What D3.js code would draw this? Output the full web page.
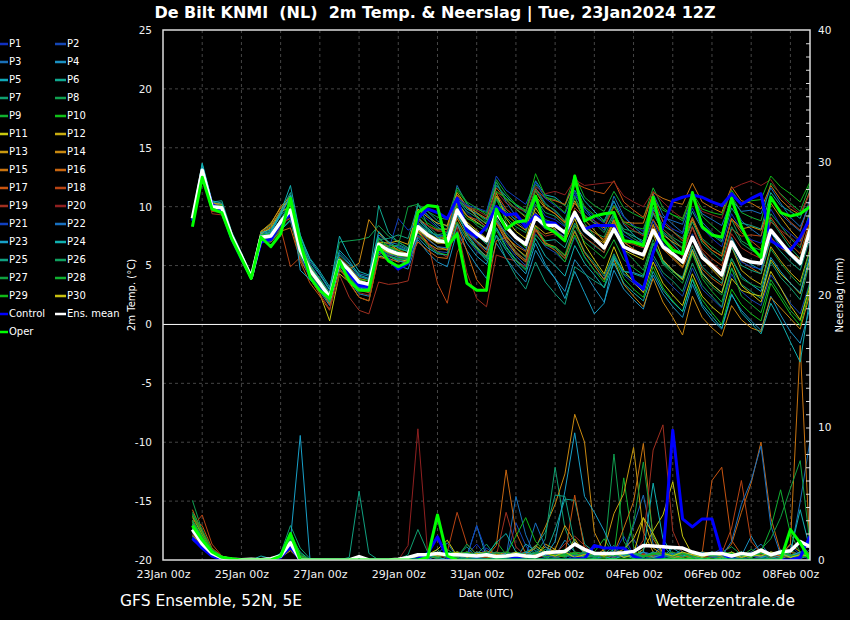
<!DOCTYPE html>
<html>
<head>
<meta charset="utf-8">
<script src="https://cdn.jsdelivr.net/npm/d3@7"></script>
<style>
    html, body { margin: 0; padding: 0; background: #000; }
    svg { display: block; font-family: "DejaVu Sans", sans-serif; }
    text { white-space: pre; }
</style>
</head>
<body>
<svg id="chart" width="850" height="620"></svg>
<script>
// forecast lead times (hours after the 23Jan2024 12Z run)
const leadHours = [6,12,18,24,30,36,42,48, 54,60,66,72,78,84,90,96, 102,108,114,120,126,132,138,144, 150,156,162,168,174,180,186,192,
    198,204,210,216,222,228,234,240, 246,252,258,264,270,276,282,288, 294,300,306,312,318,324,330,336, 342,348,354,360,366,372,378,384];

const memberNames = ["P1","P2","P3","P4","P5","P6","P7","P8","P9","P10","P11","P12","P13","P14","P15",
    "P16","P17","P18","P19","P20","P21","P22","P23","P24","P25","P26","P27","P28","P29","P30"];

const tempTicks = [-20, -15, -10, -5, 0, 5, 10, 15, 20, 25];
const rainTicks = [0, 10, 20, 30, 40];
const dateTicks = ["2024-01-23","2024-01-25","2024-01-27","2024-01-29","2024-01-31","2024-02-02","2024-02-04","2024-02-06","2024-02-08"];

// 2m temperature (°C)
const tempP1 = [9.1,13.3,10.1,9.8,7.6,5.9,4.1,7.6, 7.8,8.9,10.2,6.8,4.9,3.6,2.4,5.6, 4.9,4.0,3.9,7.2,6.8,6.6,6.2,9.6, 8.9,8.2,7.8,10.8,9.5,8.7,8.0,10.9, 9.6,8.8,8.1,10.5,9.2,8.9,8.3,11.0, 9.8,9.2,8.6,10.4,9.1,8.4,7.9,10.3, 8.8,8.1,7.7,9.9,8.2,7.3,6.6,9.4, 8.0,7.2,6.9,9.8,8.4,7.7,7.0,9.5];
const tempP2 = [8.9,13.0,9.8,9.7,7.4,5.7,3.9,7.2, 7.3,8.4,9.1,5.9,4.2,3.1,1.9,5.0, 4.3,3.2,3.0,6.3,5.9,5.5,5.4,7.6, 6.8,6.2,6.1,8.6,7.3,6.2,5.6,8.2, 6.9,5.8,5.0,7.7,6.6,6.1,5.3,7.4, 5.8,4.6,3.9,5.9,4.2,3.5,2.8,5.6, 4.1,3.2,2.4,4.8,3.0,2.2,1.4,4.3, 2.8,2.1,1.6,4.2,3.1,1.8,0.9,3.6];
const tempP3 = [9.2,13.5,10.3,10.1,7.8,6.0,4.1,7.8, 8.1,9.3,10.8,7.1,5.3,4.2,2.9,6.1, 5.2,4.3,4.1,7.6,7.0,6.8,6.4,10.2, 9.3,8.5,8.0,11.8,10.2,9.1,8.2,12.1, 10.4,9.2,8.6,11.6,10.3,9.6,8.8,11.4, 9.9,8.8,8.0,10.9,9.2,8.3,7.6,11.1, 9.3,8.5,7.8,10.9,8.7,7.8,7.1,10.6, 8.8,8.1,7.5,10.8,9.4,8.6,7.9,10.7];
const tempP4 = [9.0,13.2,10.0,9.9,7.3,5.6,3.9,7.0, 7.0,8.0,8.8,5.7,4.0,2.8,1.6,4.8, 3.7,2.6,2.4,6.0,5.4,5.0,4.7,7.2, 6.1,5.3,4.9,7.9,6.3,5.0,3.9,6.9, 5.6,4.5,3.6,6.3,4.9,3.9,2.8,5.5, 4.4,3.1,1.9,4.6,3.0,2.1,1.3,4.2, 2.6,1.5,0.6,3.4,1.5,0.4,-0.4,2.5, 1.2,0.3,-0.5,2.4,0.8,-0.6,-1.6,1.4];
const tempP5 = [9.1,13.6,10.4,10.2,7.7,5.9,4.0,7.7, 7.9,9.4,11.0,7.4,5.6,4.5,3.2,6.3, 5.4,4.2,3.9,7.4,6.5,6.2,6.0,8.9, 8.0,7.5,7.6,10.9,9.8,9.4,8.9,11.8, 10.9,10.1,9.5,12.2,11.0,10.8,10.1,12.0, 10.5,9.6,8.8,10.5,8.5,7.6,6.9,9.5, 7.8,6.9,6.0,8.3,6.1,5.1,4.2,7.4, 5.7,5.1,4.6,7.8,6.6,5.8,5.0,8.2];
const tempP6 = [8.8,13.0,10.4,10.5,7.9,6.1,4.3,7.9, 8.4,9.6,11.2,7.6,5.1,3.9,2.7,5.9, 5.1,4.1,3.8,10.1,7.8,7.0,6.5,9.6, 9.6,8.8,8.3,10.5,8.2,7.1,6.4,8.8, 7.2,6.1,5.5,8.0,7.1,7.2,6.5,8.6, 7.4,6.7,6.1,9.2,7.9,7.5,7.1,9.9, 8.4,7.9,7.3,9.6,8.1,7.6,7.0,9.9, 8.6,8.4,8.1,11.2,10.1,9.6,9.0,11.4];
const tempP7 = [9.0,12.9,9.9,9.7,7.2,5.5,3.8,7.5, 7.9,9.2,10.3,6.6,4.4,3.2,2.0,5.1, 4.5,3.3,3.0,6.5,6.5,6.7,6.3,10.3, 8.4,7.6,7.2,10.1,8.4,7.6,6.8,9.1, 7.6,6.5,5.7,8.2,6.8,6.5,5.6,8.0, 6.2,5.2,4.1,6.0,4.3,3.8,3.2,5.9, 4.4,3.7,2.8,5.2,3.3,2.4,1.5,4.8, 3.4,2.8,2.2,5.3,4.0,3.1,2.1,5.4];
const tempP8 = [9.1,13.1,10.2,10.0,7.5,5.8,4.1,7.4, 7.4,8.7,9.8,6.4,4.8,3.7,2.5,7.0, 7.1,7.2,7.4,8.4,7.5,7.0,6.5,9.2, 8.1,7.4,7.3,10.4,9.3,8.4,7.9,10.6, 9.1,8.3,7.8,10.2,8.9,8.6,7.9,9.6, 8.2,7.8,7.4,9.3,8.1,7.9,7.7,10.0, 8.1,7.4,6.9,9.0,7.3,6.6,6.0,8.9, 7.1,6.6,6.3,9.4,8.4,7.3,6.5,9.7];
const tempP9 = [8.9,12.8,9.7,9.6,7.3,5.7,4.0,7.3, 7.2,8.3,9.4,6.0,4.1,3.0,1.8,4.6, 4.0,3.0,2.8,6.4,5.8,5.6,5.5,8.7, 7.8,7.3,7.6,10.6,9.9,9.8,9.5,12.3, 11.1,10.2,9.7,11.9,10.8,10.6,10.1,12.7, 10.8,10.1,9.6,11.3,9.9,9.4,9.0,11.6, 9.9,9.3,8.8,11.1,9.2,8.4,7.7,10.9, 9.5,9.1,8.8,12.0,11.1,10.3,9.6,11.9];
const tempP10 = [9.0,13.2,10.1,10.0,7.6,5.8,4.0,7.6, 7.7,8.8,9.9,6.1,4.4,3.4,2.2,5.3, 4.7,3.7,3.5,7.0,6.6,6.4,6.2,9.4, 8.6,8.1,8.1,11.4,10.3,9.5,8.7,10.8, 8.7,7.4,6.5,8.4,7.0,6.3,5.3,7.6, 5.7,4.6,3.6,5.7,3.9,3.0,2.3,4.9, 3.1,2.0,1.1,3.9,2.1,1.0,0.0,3.0, 1.7,0.9,0.3,3.5,2.2,0.9,-0.1,2.9];
const tempP11 = [9.1,13.0,10.0,9.8,7.6,5.9,4.2,7.7, 8.2,9.5,10.1,6.0,3.9,2.6,0.3,4.3, 3.6,2.3,2.0,5.8,5.6,5.3,5.5,8.0, 7.6,7.1,7.4,10.4,9.2,8.7,8.1,11.2, 9.0,7.9,7.3,9.9,8.6,8.1,7.0,9.0, 6.8,5.5,4.3,6.6,4.6,3.6,2.7,5.3, 3.5,2.5,1.6,4.3,2.4,1.5,0.8,3.9, 2.9,2.6,2.4,5.5,4.3,3.5,2.6,5.6];
const tempP12 = [9.0,13.1,10.3,10.2,7.8,5.9,4.1,7.9, 8.6,9.9,10.6,6.7,4.9,3.8,2.6,5.5, 4.8,3.9,3.7,7.0,6.9,7.1,6.8,9.8, 9.1,8.6,8.4,11.2,10.0,9.2,8.5,10.9, 9.4,8.6,8.0,10.9,9.9,9.4,8.6,10.5, 8.9,8.0,7.0,8.8,7.0,6.4,5.9,8.5, 6.6,5.7,4.9,7.5,5.6,4.7,3.8,6.6, 4.6,3.9,3.4,6.6,5.4,4.4,3.6,6.4];
const tempP13 = [8.9,13.0,10.0,9.9,7.5,5.8,4.0,7.3, 7.4,8.5,9.5,6.2,4.5,3.4,2.2,5.2, 4.4,3.4,3.2,6.6,6.0,5.8,5.8,7.9, 6.9,6.4,6.4,9.2,7.9,7.1,6.4,8.9, 7.5,6.5,5.8,8.4,7.7,7.9,7.4,9.3, 7.9,7.4,6.9,8.6,7.2,6.9,6.7,8.9, 7.6,7.0,6.5,8.9,7.1,6.3,5.8,9.0, 8.1,8.3,8.0,10.3,9.1,8.0,7.1,9.1];
const tempP14 = [9.0,13.1,10.1,10.0,7.6,5.8,4.0,7.9, 8.5,10.0,10.9,6.9,5.0,3.7,2.4,5.5, 4.7,5.2,8.9,7.8,6.9,6.3,5.8,8.2, 7.3,6.6,6.3,9.0,7.5,6.5,5.8,8.6, 7.1,6.0,5.3,8.1,6.9,6.6,5.8,7.9, 6.1,5.0,3.8,5.5,3.4,2.4,1.5,3.9, 1.9,0.6,-0.9,2.4,0.6,-0.3,-1.0,1.6, 0.4,-0.3,-0.6,2.3,1.4,0.5,-0.4,2.6];
const tempP15 = [9.1,13.2,10.2,10.1,7.7,6.0,4.2,7.8, 8.3,9.7,10.6,6.5,4.7,3.6,2.3,5.7, 4.9,3.8,3.5,6.9,6.6,6.3,6.0,9.0, 8.4,8.0,8.1,11.0,10.0,9.5,9.0,11.6, 10.6,9.8,9.1,11.3,10.0,9.4,8.7,10.3, 9.2,8.6,8.2,10.0,8.7,8.6,8.6,11.2, 10.7,10.4,10.2,12.0,10.4,9.9,9.5,11.7, 10.5,10.3,9.8,11.8,10.6,9.8,9.3,11.3];
const tempP16 = [8.9,12.9,9.9,9.8,7.3,5.6,3.8,7.2, 7.0,7.9,8.2,5.5,4.0,3.0,1.7,4.6, 3.9,2.9,2.7,6.1,5.8,5.4,5.3,7.0, 6.3,5.7,5.6,8.6,6.2,3.8,2.8,7.1, 7.4,6.7,6.2,9.2,8.3,8.0,7.2,9.2, 8.4,7.8,7.2,8.9,7.0,6.4,5.9,8.4, 6.4,5.6,4.8,6.7,4.7,3.9,3.3,6.8, 5.4,4.8,4.3,7.4,6.5,6.0,5.6,8.6];
const tempP17 = [9.0,13.1,10.0,9.9,7.5,5.7,3.9,7.2, 7.6,8.6,9.0,5.3,3.5,2.4,1.2,5.0, 4.4,3.3,3.1,6.6,6.1,5.7,5.6,8.1, 7.7,7.3,7.4,10.2,9.2,8.9,8.3,11.1, 9.8,9.1,8.8,11.5,10.7,10.5,10.2,12.0, 11.6,11.3,11.1,12.2,10.4,9.7,9.1,11.0, 8.7,7.9,7.1,9.1,7.2,6.3,5.8,9.0, 7.8,7.1,6.4,9.1,7.9,6.8,6.0,8.8];
const tempP18 = [9.0,13.0,9.6,9.5,7.2,5.5,3.9,7.3, 7.3,8.2,4.9,5.7,4.2,3.1,1.9,4.8, 3.5,2.3,2.0,5.7,5.5,5.4,5.2,8.0, 7.0,3.5,1.8,6.1,7.8,6.9,6.1,8.7, 7.3,6.2,5.4,8.0,6.8,6.3,5.6,8.4, 7.4,6.8,6.1,8.4,7.0,6.8,6.5,8.9, 7.3,6.6,5.8,8.3,6.4,5.6,5.0,8.1, 7.5,7.6,7.5,10.6,9.7,8.7,8.0,10.4];
const tempP19 = [9.0,12.9,9.4,9.3,7.2,5.6,3.9,7.2, 7.2,8.0,9.4,6.0,3.9,2.6,1.3,4.2, 2.3,1.2,0.9,3.6,3.4,3.5,3.7,7.5, 6.9,6.2,5.7,8.3,4.4,2.2,1.5,5.9, 5.6,5.4,4.9,8.1,7.5,7.7,7.4,9.9, 9.1,8.8,8.3,10.1,8.6,8.0,7.5,9.6, 8.1,7.3,6.4,8.2,6.2,5.2,4.6,7.7, 6.5,6.0,5.6,8.7,8.0,7.4,6.7,9.2];
const tempP20 = [9.0,13.0,10.1,10.0,7.6,5.8,4.0,7.5, 7.6,8.6,9.4,6.1,4.3,3.2,2.0,5.1, 3.9,2.7,2.5,6.1,5.9,5.8,5.7,8.8, 8.4,7.9,7.9,10.9,10.0,9.7,9.2,11.3, 10.3,9.9,9.6,11.7,11.1,11.3,11.0,12.3, 11.8,11.9,12.0,12.1,10.9,10.4,10.0,11.3, 10.4,9.6,9.0,10.9,9.6,9.3,9.0,11.5, 11.9,12.2,11.8,12.3,11.0,10.1,9.4,11.1];
const tempP21 = [9.1,13.2,10.1,9.9,7.5,5.8,4.0,7.5, 7.6,8.8,9.9,6.4,4.7,3.6,2.4,5.5, 4.6,3.5,3.3,6.7,6.3,9.0,8.0,8.6, 7.9,7.5,7.6,10.8,10.1,9.9,9.6,12.6, 11.4,10.8,10.2,12.1,10.7,10.1,9.4,11.2, 9.6,8.8,8.0,9.4,7.6,7.1,6.6,8.8, 6.9,6.1,5.3,7.7,5.8,5.0,4.2,6.9, 5.3,4.9,4.7,7.8,6.9,5.9,5.1,7.8];
const tempP22 = [8.9,13.0,9.9,9.8,7.4,5.7,4.0,7.3, 7.3,8.4,9.5,6.2,4.5,3.4,2.2,5.3, 4.3,3.2,3.0,6.4,6.0,5.7,5.6,8.1, 7.2,6.6,6.5,9.3,7.9,7.0,6.3,8.8, 7.8,6.9,6.3,9.0,8.1,8.0,7.4,9.2, 7.8,7.2,6.6,8.3,7.1,7.0,7.0,9.7, 9.1,8.8,8.5,10.8,9.4,8.9,8.4,10.6, 9.6,9.7,9.4,11.6,10.3,9.1,8.3,10.2];
const tempP23 = [9.0,13.3,10.2,10.0,7.5,5.8,4.1,7.6, 7.8,9.3,10.9,4.6,3.8,2.9,1.9,5.0, 4.2,3.1,2.9,6.2,5.8,5.4,5.2,7.4, 6.5,6.0,5.9,8.5,6.9,5.8,5.1,7.6, 6.3,5.2,4.3,6.9,5.1,3.9,2.2,4.5, 2.7,0.9,1.8,5.6,4.5,4.4,4.1,6.9, 5.4,4.6,3.9,6.4,4.4,3.4,2.7,5.6, 4.1,3.4,2.8,5.7,4.5,3.5,2.7,5.9];
const tempP24 = [9.2,13.7,10.5,10.3,7.8,6.0,4.2,7.8, 8.0,9.5,11.8,7.6,5.5,4.3,3.0,7.5, 5.8,4.5,4.2,7.9,7.0,6.5,6.2,9.0, 8.2,7.4,6.9,9.4,7.7,6.6,5.7,8.2, 6.6,5.5,4.7,7.3,5.8,5.0,4.1,6.7, 5.2,4.2,3.1,5.2,3.5,2.7,2.0,4.5, 2.9,1.9,1.1,3.8,1.7,0.7,-0.3,2.6, 1.0,0.1,-0.8,1.8,0.3,-1.5,-3.2,2.3];
const tempP25 = [9.0,13.1,10.0,9.9,7.5,5.8,4.0,7.5, 7.6,8.9,10.3,7.0,5.0,3.8,2.6,5.6, 4.8,3.7,3.5,7.2,7.3,7.6,7.3,10.1, 9.2,8.3,7.6,9.7,7.6,6.4,5.4,7.5, 5.6,4.1,3.0,5.3,3.6,2.6,1.7,4.9, 4.3,3.7,3.2,5.8,4.5,4.3,4.0,6.8, 5.2,4.5,4.0,6.7,4.9,4.1,3.5,6.6, 5.0,4.6,4.3,7.2,6.2,5.3,4.6,7.3];
const tempP26 = [8.9,12.9,9.8,9.7,7.3,5.6,3.9,7.1, 7.1,8.1,8.9,5.8,4.1,3.0,1.9,4.9, 4.1,3.0,2.8,6.4,5.8,5.5,5.6,8.5, 7.9,7.6,7.8,10.6,9.6,9.1,8.6,10.7, 9.6,8.9,8.4,10.6,9.5,9.2,8.4,10.8, 9.3,8.6,7.8,9.5,7.9,7.3,6.8,9.4, 7.9,7.2,6.5,8.7,6.9,6.1,5.4,8.3, 6.9,6.3,5.9,8.9,7.7,6.5,5.6,8.4];
const tempP27 = [9.0,13.0,10.0,10.0,7.6,5.9,4.1,7.4, 7.5,8.8,9.7,6.5,4.8,3.7,2.5,5.4, 4.5,3.4,3.2,6.9,6.7,6.7,10.0,10.2, 9.6,9.1,8.9,11.6,10.4,9.9,9.3,12.1, 10.6,9.8,9.2,11.4,10.2,9.7,8.8,10.9, 8.6,7.5,6.4,8.1,6.3,5.5,4.6,7.2, 5.1,4.3,3.5,6.0,4.1,3.2,2.5,5.6, 3.9,3.4,3.1,6.4,5.2,4.2,3.3,6.3];
const tempP28 = [9.1,13.2,10.1,10.0,7.6,5.8,4.0,7.6, 7.7,8.9,9.6,6.0,4.3,3.2,2.0,4.9, 4.4,3.4,3.3,6.7,6.1,5.8,5.7,7.8, 6.7,6.1,5.9,8.7,7.3,6.4,5.6,8.0, 6.5,5.4,4.6,7.6,6.7,6.6,5.9,8.4, 7.0,6.3,5.6,7.2,5.5,4.8,4.2,6.9, 5.3,4.5,3.8,6.1,3.9,2.8,1.9,4.8, 2.4,1.7,1.0,3.8,2.5,1.2,0.3,3.6];
const tempP29 = [9.0,13.0,10.1,10.1,7.6,5.8,4.0,7.4, 7.5,8.7,9.9,6.5,4.6,3.5,2.3,5.3, 4.8,3.8,3.7,7.3,6.6,6.2,5.9,8.3, 7.7,7.2,7.2,10.1,9.0,8.6,8.2,11.3, 10.7,10.2,9.6,12.8,10.9,10.2,9.5,11.9, 10.0,9.3,8.7,10.1,8.7,8.3,8.1,10.5, 9.7,9.3,9.0,11.2,9.8,9.5,9.3,11.4, 10.2,10.5,10.6,12.6,11.7,11.1,10.4,12.1];
const tempP30 = [9.1,13.1,10.0,9.9,7.5,5.7,3.9,7.3, 7.4,8.6,9.6,6.2,4.4,3.3,2.1,5.2, 4.3,3.3,3.1,6.5,6.1,5.9,5.8,8.0, 7.4,6.9,6.9,9.9,8.7,8.0,7.3,9.8, 8.2,7.3,6.7,9.5,8.6,8.5,7.8,9.7, 8.1,7.4,6.6,8.0,6.3,5.9,5.5,7.7, 5.5,4.6,3.8,6.3,4.3,3.4,2.7,5.3, 3.3,2.6,1.9,4.5,3.1,1.6,0.4,3.2];
const tempControl = [8.8,12.9,10.2,9.7,7.3,5.6,4.0,7.0, 7.2,8.6,9.4,6.5,4.0,3.0,2.2,5.2, 4.3,3.3,3.2,6.5,5.5,4.7,5.2,9.0, 9.8,9.5,9.0,10.7,8.0,7.4,8.3,10.0, 9.3,9.4,8.3,9.3,8.7,8.6,7.7,9.4, 8.1,8.4,8.4,8.4,6.3,3.7,3.0,6.1, 8.3,10.5,10.8,11.0,10.8,10.4,10.1,11.1, 10.2,10.7,11.1,7.1,6.6,6.3,7.4,9.0];
const tempOper = [8.3,12.5,9.8,9.5,7.3,5.6,3.9,7.4, 6.6,7.7,10.7,7.0,4.0,2.9,2.2,5.4, 3.7,2.9,2.9,6.6,5.4,4.9,5.3,9.5, 10.1,10.0,6.6,7.7,3.5,2.9,2.9,9.8, 8.1,8.7,8.8,10.9,8.3,7.8,7.1,12.6, 8.8,9.2,9.4,9.5,7.1,7.0,6.7,10.8, 7.3,6.3,6.0,11.2,8.3,7.6,7.4,10.7, 8.3,6.6,5.7,10.8,9.5,9.2,9.4,10.0];
const tempMean = [9.0,13.1,10.0,9.9,7.5,5.8,4.0,7.4, 7.5,8.7,9.7,6.3,4.6,3.5,2.3,5.4, 4.6,3.6,3.4,6.8,6.3,6.0,5.9,8.3, 7.6,7.1,7.0,9.7,8.4,7.7,7.1,9.5, 8.3,7.4,6.8,9.1,8.4,8.4,7.8,9.5, 8.0,7.3,6.5,8.1,6.6,6.2,5.9,8.0, 6.6,6.0,5.3,7.4,5.7,5.0,4.2,7.0, 5.6,5.3,5.2,8.0,7.0,6.0,5.2,8.0];

// 6-hourly precipitation (mm)
const rainP1 = [2.0,1.1,0.4,0.1,0,0,0,0, 0,0.3,1.0,0,0,0,0,0, 0,0,0,0,0,0,0.2,0.3, 0.1,0.6,0.2,0,0.4,1.2,0.3,0, 0.2,0.5,0,0.3,0.8,0.2,0,1.4, 0.6,0.2,0,0.5,1.8,0.4,0,0.3, 0,0.2,0.6,0,0,0.4,0.9,0.2, 0,0.3,0.1,0,0.5,1.1,0.4,0];
const rainP2 = [1.5,0.9,0.3,0,0,0,0,0.1, 0,0.2,0.8,0,0,0,0,0, 0,0,0,0,0,0,0,0.5, 0.3,0.1,0,0.6,0.2,0,0.9,0.4, 0.1,2.8,1.1,0,0.2,0.1,0.4,0, 0,0,0.3,0.2,0.9,1.6,0.3,0, 0.2,0,0,0.1,0.4,0,0,0.3, 0.6,0,0,0.2,0.1,0,0.2,0.8];
const rainP3 = [2.6,1.6,0.5,0.2,0,0,0.1,0, 0,0.4,1.2,0,0,0,0,0, 0,0,0,0,0,0,0,0.2, 0,0.4,1.3,0.2,0,0.3,0.1,0.5, 0.2,4.8,1.9,0.2,0,0.6,0.4,0.3, 0.2,0.5,0.3,0.8,0.4,2.6,4.9,1.2, 0.4,0.2,0.1,0,0.3,0.2,0,0.5, 0.2,0.6,1.2,0.3,0,0.5,4.4,9.0];
const rainP4 = [1.8,1.0,0.4,0.1,0,0,0,0, 0,0.2,1.4,0.3,0,0,0,0, 0,0,0,0,0,0,0,0.4, 0.1,0,0.2,0.5,0.3,2.6,0.2,0.1, 0.4,0.3,0.1,0.6,0.3,0.3,1.5,0.6, 0.2,0.1,0.3,0,0.5,0.2,0.6,0.4, 1.1,0.3,0,0.2,0.1,0.4,0.2,0, 0.3,1.8,0.5,0,0.2,0.3,0.1,0.4];
const rainP5 = [3.0,1.7,0.6,0.2,0.1,0,0,0, 0,0.3,1.1,0.1,0,0,0,0, 0,0,0,0,0,0,0,0.1, 0.4,0.2,0,0.3,0.1,0.2,0.6,0.4, 0.3,0.1,1.2,0.7,0.4,0.2,0.5,0.3, 0.6,0.4,0.2,0.1,0.3,0.6,0.2,0.5, 0.3,0.9,0.4,0.2,0.6,0.2,0.1,0.3, 0.4,0.2,0.6,0.3,0.8,0.2,0.3,0.5];
const rainP6 = [2.4,1.3,0.5,0.1,0,0,0,0, 0,0.4,1.6,0.2,0,0,0,0, 0,0,0,0,0,0,0,0, 0.2,0.8,0.1,0.3,1.0,0.2,0.4,0.1, 0.1,0.5,0.3,0.9,0.4,2.3,4.6,4.5, 1.2,0.6,0.2,0.3,0.4,0.1,0.3,0.2, 0.1,0.2,0.9,0.4,0,0.2,0.3,0.2, 0.5,0.3,0.2,0.1,0.4,0.6,1.4,0.3];
const rainP7 = [3.5,2.0,0.7,0.2,0,0,0,0, 0,0.5,2.6,0.9,0.1,0,0,0, 0,0,0,0,0,0,0.4,2.3, 0.6,0.2,0.8,0.3,0.1,0.4,1.2,0.2, 0.3,0.6,0.2,0.4,1.6,7.0,2.4,0.6, 0.3,0.2,0.4,1.1,0.2,0.3,0.5,0.2, 0.4,0.1,0.2,0.6,0.3,0.4,0.2,0.3, 0.1,0.4,0.3,0.2,0.6,0.2,0.4,0.5];
const rainP8 = [4.5,2.2,0.8,0.3,0.1,0,0,0, 0,0.3,1.8,0.4,0,0,0,0, 0,0,0,0,0,0,0,0.3, 0.5,0.3,0.6,0.2,0.4,0.3,0.1,0.4, 0.2,0.3,0.5,0.2,0.8,0.4,0.2,0.6, 0.4,0.3,0.2,8.0,1.4,0.3,0.2,0.5, 0.6,0.3,0.1,0.2,0.5,0.3,0.6,1.0, 0.4,0.2,0.5,0.3,0.2,0.7,0.4,0.3];
const rainP9 = [3.2,1.9,0.6,0.2,0,0,0,0, 0,0.2,1.3,0.2,0,0,0,0, 0,0,0,0,0,0,0,0.2, 0.3,0.1,0.4,0.2,0.6,0.3,0.2,1.4, 0.4,0.2,0.6,0.3,0.3,0.5,0.8,0.4, 0.2,0.6,1.6,0.4,6.2,1.0,0.3,0.2, 0.2,0.4,0.3,0.1,0.6,0.2,0.4,0.3, 0.3,0.8,0.4,0.2,0.5,0.3,0.2,0.4];
const rainP10 = [2.8,1.5,0.5,0.1,0,0,0,0, 0,0.3,1.5,0.1,0,0,0,0, 0,0,0,0,0,0,0,0.1, 0.2,0.5,0.1,0.6,0.3,0.1,0.4,0.2, 0.6,0.4,0.2,0.5,0.3,0.2,0.3,0.6, 0.2,0.3,0.5,0.2,0.4,0.6,0.3,0.2, 0.3,0.2,0.4,0.3,0.2,0.2,0.3,0.5, 0.2,0.5,0.3,0.4,0.2,0.6,0.3,0.2];
const rainP11 = [2.2,1.2,0.4,0.1,0,0,0,0, 0,0.2,0.9,0.2,0,0,0,0, 0,0,0,0,0,0,0,0.3, 0.4,0.8,1.5,0.3,0.2,0.6,0.5,0.2, 0.3,0.2,0.4,1.1,0.5,0.8,0.3,1.6, 0.5,0.3,0.4,0.2,0.6,0.3,0.8,2.2, 3.4,5.9,1.8,0.4,0.6,0.3,0.2,0.5, 0.3,0.2,0.6,0.4,0.3,0.2,0.5,0.3];
const rainP12 = [1.9,1.0,0.3,0.1,0,0,0,0, 0,0.2,0.7,0,0,0,0,0, 0,0,0,0,0,0,0,0.2, 0.2,0.4,0.2,0.6,0.5,0.3,0.2,0.3, 0.5,0.3,0.2,0.4,1.0,0.6,0.4,0.3, 0.6,0.4,0.3,0.5,0.8,1.6,3.2,0.9, 0.4,0.2,0.3,0.2,0.6,0.5,0.2,0.4, 0.5,0.3,0.2,0.6,0.4,1.2,0.6,0.4];
const rainP13 = [2.6,1.3,0.4,0.2,0,0,0,0, 0,0.3,1.2,0.1,0,0,0,0, 0,0,0,0,0,0,0,0.2, 0.3,0.2,0.5,0.2,0.6,0.4,0.3,0.6, 0.4,0.6,0.3,0.2,1.2,0.8,2.6,1.4, 0.5,0.3,0.8,3.5,5.0,8.5,2.1,0.6, 0.4,0.3,0.6,0.2,0.3,0.4,0.6,0.3, 0.2,0.4,0.3,0.5,0.2,0.3,0.4,0.6];
const rainP14 = [3.3,1.9,0.6,0.2,0,0,0,0, 0,0.4,1.9,0.3,0,0,0,0, 0,0,0,0,0,0,0,0.3, 0.2,0.6,0.4,0.2,0.5,0.3,0.7,0.4, 0.3,0.2,0.5,0.9,2.5,4.2,6.5,11.0, 8.9,2.1,0.6,0.4,0.3,0.5,0.4,0.3, 0.6,0.3,0.2,0.4,0.5,0.3,0.2,0.6, 0.3,0.4,0.6,0.2,0.4,0.3,0.5,0.2];
const rainP15 = [2.9,1.6,0.5,0.2,0,0,0,0, 0,0.3,1.3,0.2,0,0,0,0, 0,0,0,0,0,0,0,0.4, 0.3,0.5,0.2,0.4,0.3,0.6,0.2,0.3, 0.5,0.3,0.6,0.2,0.4,0.3,0.5,0.4, 0.3,0.6,0.4,0.5,2.4,4.4,8.8,1.6, 0.4,0.2,0.5,0.3,0.4,0.2,0.6,0.3, 0.4,0.3,0.6,0.5,0.3,1.2,16.2,0.5];
const rainP16 = [3.8,2.1,0.7,0.2,0.1,0,0,0, 0,0.4,1.7,0.3,0,0,0,0, 0,0,0,0,0,0,0,0.2, 0.4,0.3,0.6,0.2,0.5,0.3,0.2,1.1, 6.8,2.1,0.5,0.3,0.6,0.4,0.3,0.5, 0.4,0.6,0.3,0.5,0.3,0.4,0.6,0.3, 0.5,0.3,0.4,0.6,0.2,0.3,0.4,1.2, 3.6,5.8,8.9,3.2,0.6,0.4,0.3,0.5];
const rainP17 = [3.0,2.6,0.9,0.3,0.1,0,0,0, 0,0.3,1.2,0.2,0,0,0,0, 0,0,0,0,0,0,0,0.3, 0.2,0.4,0.3,0.6,0.2,0.4,0.5,0.3, 0.3,0.5,0.4,0.3,0.6,0.2,0.4,4.9, 0.8,0.3,0.5,0.2,0.4,0.6,0.3,0.4, 0.3,0.6,0.2,0.4,0.5,6.0,7.0,1.5, 0.4,0.3,0.5,0.2,0.6,0.3,0.4,0.3];
const rainP18 = [2.5,3.4,1.2,0.3,0,0,0,0, 0,0.2,1.0,0.1,0,0,0,0, 0,0,0,0,0,0,0,0.2, 0.4,0.3,0.6,3.6,1.2,0.4,0.3,0.2, 0.6,0.3,0.2,0.5,0.4,0.3,0.6,0.3, 0.2,0.4,0.3,0.6,0.3,0.5,0.4,0.2, 0.5,0.3,0.4,0.2,0.6,0.3,0.5,2.4, 6.0,1.4,0.5,0.3,0.2,0.6,0.4,0.3];
const rainP19 = [2.2,1.4,0.5,0.1,0,0,0,0, 0,0.2,0.9,0.1,0,0,0,0, 0,0,0,0,0,0,0,0.4, 0.2,0.5,0.3,0.4,0.6,0.2,0.4,0.3, 3.6,1.0,0.3,0.4,0.6,0.5,1.2,1.8, 1.1,0.4,0.3,0.5,0.6,0.4,1.5,8.3, 10.2,2.2,0.5,0.3,0.4,0.2,0.6,0.3, 0.4,0.5,0.3,0.6,0.2,0.4,0.3,0.5];
const rainP20 = [2.0,1.1,0.4,0.1,0,0,0,0, 0,0.2,0.8,0,0,0,0,0, 0,0,0,0,0,0,1.1,9.9, 0.5,0.3,0.2,0.4,0.6,0.3,0.2,0.5, 0.3,0.4,0.6,0.2,0.3,0.5,0.4,0.6, 0.3,0.5,0.2,0.4,0.6,0.3,0.5,0.4, 0.6,0.3,0.4,0.5,0.2,0.3,0.6,0.4, 0.3,0.6,0.4,0.2,0.5,0.3,0.4,0.6];
const rainP21 = [1.7,1.0,0.4,0.1,0,0,0,0, 0,0.3,1.1,0.1,0,0,0,0, 0,0,0,0,0,0,0,0.3, 0.4,0.2,0.5,0.3,0.2,2.6,0.6,0.3, 0.2,0.5,0.3,0.6,0.4,0.2,0.5,0.3, 0.6,0.3,0.5,0.2,0.4,0.3,0.6,0.4, 0.2,0.4,0.3,0.6,0.5,0.2,0.3,0.4, 0.5,0.3,0.2,0.4,0.6,0.3,0.5,0.2];
const rainP22 = [2.3,1.2,0.4,0.2,0,0,0,0, 0,0.3,1.3,0.2,0,0,0,0, 0,0,0,0,0,0,0,0.2, 0.3,0.5,0.2,0.6,0.4,0.3,0.5,0.2, 0.4,0.6,0.3,2.8,1.0,0.4,0.6,0.3, 0.5,0.2,0.4,0.6,0.3,0.5,0.2,0.6, 0.3,0.5,0.6,0.2,0.4,0.6,0.3,1.4, 4.2,6.0,8.6,2.6,0.4,0.3,0.6,0.4];
const rainP23 = [2.7,1.5,0.5,0.2,0,0,0,0, 0,0.3,1.5,9.4,0,0,0,0, 0,0,0,0,0,0,0,0.3, 0.2,0.4,0.3,0.5,0.2,0.6,0.4,0.3, 0.5,0.3,0.6,0.4,0.3,1.4,5.2,9.6, 4.8,3.6,2.2,0.5,0.3,0.4,0.6,0.2, 0.4,0.3,0.5,0.2,0.6,0.3,0.4,0.5, 0.3,0.6,0.2,0.4,0.5,0.3,0.6,0.4];
const rainP24 = [2.1,1.3,0.4,0.1,0,0,0,0.3, 0.1,0.5,1.8,0.6,0,0,0,0, 0,0,0,0,0,0,0,0.3, 0.4,0.2,0.6,0.3,0.5,0.2,0.4,1.3, 2.0,0.6,0.3,0.5,0.4,0.6,0.3,0.5, 0.2,0.4,0.6,0.3,0.5,0.2,0.6,5.8, 1.6,0.4,0.3,0.5,0.2,0.6,0.3,0.4, 0.6,0.3,0.5,0.4,0.2,0.6,3.8,0.8];
const rainP25 = [2.4,1.4,0.5,0.1,0,0,0,0, 0,0.2,1.0,0.1,0,0,0,0, 0.2,5.2,0.5,0,0,0,0,0.2, 0.3,0.5,0.2,0.4,0.6,0.3,0.5,0.2, 0.4,0.3,0.6,1.0,2.1,4.9,4.8,1.2, 0.5,0.3,0.4,0.6,0.2,0.5,0.3,0.6, 0.3,0.4,0.6,0.2,0.5,0.3,0.4,0.6, 0.2,0.5,0.3,0.6,0.4,0.2,0.5,0.3];
const rainP26 = [2.9,1.7,0.6,0.2,0,0,0,0, 0,0.3,1.4,0.2,0,0,0,0, 0,0,0,0,0,0,0,0.3, 0.5,0.3,0.6,0.2,0.4,0.5,0.3,0.6, 0.2,0.6,0.4,0.3,0.5,0.6,0.4,0.2, 0.6,0.3,0.5,0.4,0.2,0.6,0.3,0.5, 0.4,0.2,0.6,0.3,0.5,0.4,0.2,0.6, 0.3,0.4,0.5,0.2,0.6,0.3,0.4,0.5];
const rainP27 = [3.6,2.3,0.8,0.3,0,0,0,0, 0,0.3,1.6,0.3,0,0,0,0, 0,0,0,0,0,0,0,0.2, 0.3,0.6,0.4,0.2,1.2,0.4,0.3,0.5, 0.6,0.4,0.2,0.5,0.6,0.3,0.5,0.4, 0.3,0.5,0.6,0.4,0.6,2.8,7.4,1.8, 0.5,0.3,0.4,0.6,0.2,0.5,0.3,0.4, 0.6,0.4,0.8,1.6,3.2,5.4,7.5,1.2];
const rainP28 = [3.0,1.8,0.6,0.2,0,0,0,0, 0,0.4,2.1,0.5,0,0,0,0, 0,0,0,0,0,0,0,0.3, 0.4,0.2,0.5,0.6,0.3,0.4,0.6,0.2, 0.3,0.5,0.4,0.6,0.2,0.4,0.3,0.6, 0.5,0.2,0.4,0.3,0.6,0.4,0.2,0.5, 0.4,0.6,0.2,0.5,0.3,0.6,0.4,0.2, 0.5,0.3,0.6,2.4,5.3,2.0,0.6,0.4];
const rainP29 = [3.4,2.0,0.7,0.2,0,0,0,0, 0,0.3,1.4,0.2,0,0,0,0, 0,0,0,0,0,0,0,0.2, 0.3,0.5,0.2,0.4,0.6,0.3,0.5,0.2, 0.4,1.8,3.2,1.4,0.6,0.3,0.4,0.5, 0.3,0.6,0.2,0.5,0.4,0.6,0.3,0.4, 0.6,0.3,0.5,0.2,0.4,0.3,0.6,0.5, 0.4,0.2,0.5,0.3,0.6,0.4,0.2,0.6];
const rainP30 = [2.5,1.4,0.5,0.1,0,0,0,0, 0,0.2,1.1,0.1,0,0,0,0, 0,0,0,0,0,0,0,0.3, 0.5,0.3,0.4,0.6,0.2,0.5,0.3,0.4, 0.3,0.6,0.2,0.4,0.5,0.3,0.6,0.2, 0.4,0.5,0.3,0.6,0.2,0.4,3.2,2.0, 0.5,0.3,0.6,0.4,0.2,0.5,0.3,0.6, 0.2,0.4,0.3,0.6,0.5,0.2,0.4,0.3];
const rainControl = [1.65,0.9,0.3,0.05,0,0,0,0, 0,0.2,1.0,0,0,0,0,0, 0,0,0,0,0,0,0,0.1, 0.5,1.75,0.2,0,0,0.1,0,0, 0,0.2,0,0,0,0,0,0.1, 0.1,1.1,0.9,0.9,0.9,0.3,0,0, 0.25,9.8,3.1,2.5,3.1,3.1,0.5,0.1, 0,0,0,0,0,0,0.2,1.8];
const rainOper = [2.6,1.5,0.6,0.2,0.1,0,0,0, 0,0.3,2.0,0,0,0,0,0, 0,0,0,0,0,0,0,0, 0.2,3.4,0.3,0,0,0,0,0, 0,0,0,0,0,0,0,0, 0,0,0,0,0,0,0,0, 0,0,0,0,0,0,0,0, 0,0,0,0,0,2.3,1.3,0];
const rainMean = [2.3,1.2,0.5,0.15,0.05,0.02,0.05,0.02, 0.1,0.3,1.3,0,0,0,0,0, 0,0.25,0,0,0,0.05,0.2,0.4, 0.4,0.5,0.4,0.4,0.35,0.3,0.4,0.25, 0.3,0.4,0.3,0.25,0.55,0.6,0.65,1.2, 0.8,0.5,0.5,0.5,0.55,0.65,1.1,1.05, 1.0,0.95,0.9,0.6,0.4,0.5,0.5,0.3, 0.5,0.4,0.75,0.4,0.6,0.7,1.4,1.0];

const memberTemps = [tempP1,tempP2,tempP3,tempP4,tempP5,tempP6,tempP7,tempP8,tempP9,tempP10,tempP11,tempP12,tempP13,tempP14,tempP15,
    tempP16,tempP17,tempP18,tempP19,tempP20,tempP21,tempP22,tempP23,tempP24,tempP25,tempP26,tempP27,tempP28,tempP29,tempP30];
const memberRains = [rainP1,rainP2,rainP3,rainP4,rainP5,rainP6,rainP7,rainP8,rainP9,rainP10,rainP11,rainP12,rainP13,rainP14,rainP15,
    rainP16,rainP17,rainP18,rainP19,rainP20,rainP21,rainP22,rainP23,rainP24,rainP25,rainP26,rainP27,rainP28,rainP29,rainP30];

// member line colours
const memberColors = ["#1030c0","#1446b4","#1a70b8","#1a90c2","#10a8b8","#10a890","#10a070","#10a050","#10b030","#10c018",
    "#c8c810","#c8ac10","#c89810","#c88810","#c87410","#c86610","#c85410","#b84414","#a03020","#902020",
    "#1040c0","#1870c0","#18a0c8","#10b0b0","#10a080","#10a060","#10a040","#10b030","#10b818","#c8c010"];
const controlColor = "#0000ff", operColor = "#00ff00", meanColor = "#ffffff";

const width = 850, height = 620;
const plot = {left: 163, right: 810, top: 30, bottom: 560};

const svg = d3.select("#chart");
svg.append("rect").attr("width", width).attr("height", height).attr("fill", "#000");

const runTime = Date.UTC(2024, 0, 23, 12);
const times = leadHours.map((h) => new Date(runTime + h * 3600 * 1000));

const xScale = d3.scaleUtc()
    .domain([new Date(Date.UTC(2024, 0, 23, 0)), new Date(Date.UTC(2024, 1, 8, 12))])
    .range([plot.left, plot.right]);
const yTemp = d3.scaleLinear().domain([-20, 25]).range([plot.bottom, plot.top]);
const yRain = d3.scaleLinear().domain([0, 40]).range([plot.bottom, plot.top]);

svg.append("clipPath").attr("id", "plotClip")
    .append("rect")
    .attr("x", plot.left).attr("y", plot.top)
    .attr("width", plot.right - plot.left).attr("height", plot.bottom - plot.top);

// grid: every day vertically, every 5 °C horizontally
const grid = svg.append("g").attr("class", "grid");
grid.selectAll("line.vgrid")
    .data(d3.utcDay.range(xScale.domain()[0], xScale.domain()[1]).slice(1))
    .enter().append("line")
    .attr("x1", (d) => xScale(d)).attr("x2", (d) => xScale(d))
    .attr("y1", plot.top).attr("y2", plot.bottom)
    .attr("stroke", "#454545").attr("stroke-dasharray", "3,3");
grid.selectAll("line.hgrid")
    .data(tempTicks.filter((t) => t > -20 && t < 25 && t !== 0))
    .enter().append("line")
    .attr("x1", plot.left).attr("x2", plot.right)
    .attr("y1", (d) => yTemp(d)).attr("y2", (d) => yTemp(d))
    .attr("stroke", "#454545").attr("stroke-dasharray", "3,3");

// zero degree line
svg.append("line")
    .attr("x1", plot.left).attr("x2", plot.right)
    .attr("y1", yTemp(0)).attr("y2", yTemp(0))
    .attr("stroke", "#ffffff").attr("stroke-width", 1);

const tempLine = d3.line()
    .x((d, i) => xScale(times[i]))
    .y((d) => yTemp(d));
const rainLine = d3.line()
    .x((d, i) => xScale(times[i]))
    .y((d) => yRain(d));

const lines = svg.append("g").attr("clip-path", "url(#plotClip)");

for (let i = 0; i < memberTemps.length; ++i)
{
    lines.append("path")
        .attr("d", tempLine(memberTemps[i]))
        .attr("fill", "none")
        .attr("stroke", memberColors[i])
        .attr("stroke-width", 1);
    lines.append("path")
        .attr("d", rainLine(memberRains[i]))
        .attr("fill", "none")
        .attr("stroke", memberColors[i])
        .attr("stroke-width", 1);
}

const mainLines = [
    {temp: tempControl, rain: rainControl, color: controlColor, w: 3},
    {temp: tempMean, rain: rainMean, color: meanColor, w: 3.5},
    {temp: tempOper, rain: rainOper, color: operColor, w: 3}
];
mainLines.forEach((s) => {
    lines.append("path")
        .attr("d", tempLine(s.temp))
        .attr("fill", "none")
        .attr("stroke", s.color)
        .attr("stroke-width", s.w)
        .attr("stroke-linejoin", "round");
    lines.append("path")
        .attr("d", rainLine(s.rain))
        .attr("fill", "none")
        .attr("stroke", s.color)
        .attr("stroke-width", s.w)
        .attr("stroke-linejoin", "round");
});

// frame
svg.append("rect")
    .attr("x", plot.left).attr("y", plot.top)
    .attr("width", plot.right - plot.left).attr("height", plot.bottom - plot.top)
    .attr("fill", "none").attr("stroke", "#dcdcdc").attr("stroke-width", 1.5);

// axes (plain hyphen for negative numbers, as in the original)
const leftAxis = svg.append("g")
    .attr("transform", `translate(${plot.left}, 0)`)
    .call(d3.axisLeft(yTemp).tickValues(tempTicks).tickSize(0).tickPadding(11)
        .tickFormat((d) => String(d)));

const rightMinor = svg.append("g")
    .attr("transform", `translate(${plot.right}, 0)`)
    .call(d3.axisLeft(yRain).tickValues(d3.range(1, 40)).tickSize(4).tickFormat(""));

const rightAxis = svg.append("g")
    .attr("transform", `translate(${plot.right}, 0)`)
    .call(d3.axisRight(yRain).tickValues(rainTicks).tickSize(0).tickPadding(8)
        .tickFormat((d) => String(d)));

const bottomAxis = svg.append("g")
    .attr("transform", `translate(0, ${plot.bottom})`)
    .call(d3.axisBottom(xScale)
        .tickValues(dateTicks.map((d) => new Date(d + "T00:00Z")))
        .tickSize(0).tickPadding(10)
        .tickFormat(d3.utcFormat("%d%b %Hz")));

[leftAxis, rightMinor, rightAxis, bottomAxis].forEach((g) => {
    g.select(".domain").remove();
    g.selectAll("text")
        .attr("fill", "#f0f0f0")
        .style("font-family", "DejaVu Sans")
        .style("font-size", "10.5px");
});
rightMinor.selectAll("line").attr("stroke", "#dcdcdc");
bottomAxis.selectAll("text").style("font-size", "11px");

// titles
svg.append("text")
    .attr("x", 435).attr("y", 18)
    .attr("text-anchor", "middle")
    .attr("fill", "#fff")
    .style("font-size", "16px").style("font-weight", "bold")
    .text("De Bilt KNMI  (NL)  2m Temp. & Neerslag | Tue, 23Jan2024 12Z");

svg.append("text")
    .attr("transform", `translate(135, ${(plot.top + plot.bottom) / 2}) rotate(-90)`)
    .attr("text-anchor", "middle")
    .attr("fill", "#fff")
    .style("font-size", "10px")
    .text("2m Temp. (°C)");

svg.append("text")
    .attr("transform", `translate(843, ${(plot.top + plot.bottom) / 2}) rotate(-90)`)
    .attr("text-anchor", "middle")
    .attr("fill", "#fff")
    .style("font-size", "10px")
    .text("Neerslag (mm)");

svg.append("text")
    .attr("x", 486).attr("y", 597)
    .attr("text-anchor", "middle")
    .attr("fill", "#fff")
    .style("font-size", "10px")
    .text("Date (UTC)");

svg.append("text")
    .attr("x", 120).attr("y", 606)
    .attr("fill", "#fff")
    .style("font-size", "15.5px")
    .text("GFS Ensemble, 52N, 5E");

svg.append("text")
    .attr("x", 795).attr("y", 606)
    .attr("text-anchor", "end")
    .attr("fill", "#fff")
    .style("font-size", "15.5px")
    .text("Wetterzentrale.de");

// legend, two columns
const legendItems = memberNames.map((n, i) => ({name: n, color: memberColors[i]}));
legendItems.push({name: "Control", color: controlColor});
legendItems.push({name: "Ens. mean", color: meanColor});
legendItems.push({name: "Oper", color: operColor});

const legend = svg.append("g").attr("class", "legend");
legendItems.forEach((item, i) => {
    const col = i % 2;
    const row = Math.floor(i / 2);
    const y = 44 + row * 18;
    const x0 = col === 0 ? 0 : 55;
    const x1 = col === 0 ? 8 : 66;
    legend.append("line")
        .attr("x1", x0).attr("x2", x1)
        .attr("y1", y).attr("y2", y)
        .attr("stroke", item.color)
        .attr("stroke-width", 2.5);
    legend.append("text")
        .attr("x", x1 + 1).attr("y", y + 2.5)
        .attr("fill", "#fff")
        .style("font-size", "10px")
        .text(item.name);
});
</script>
</body>
</html>
